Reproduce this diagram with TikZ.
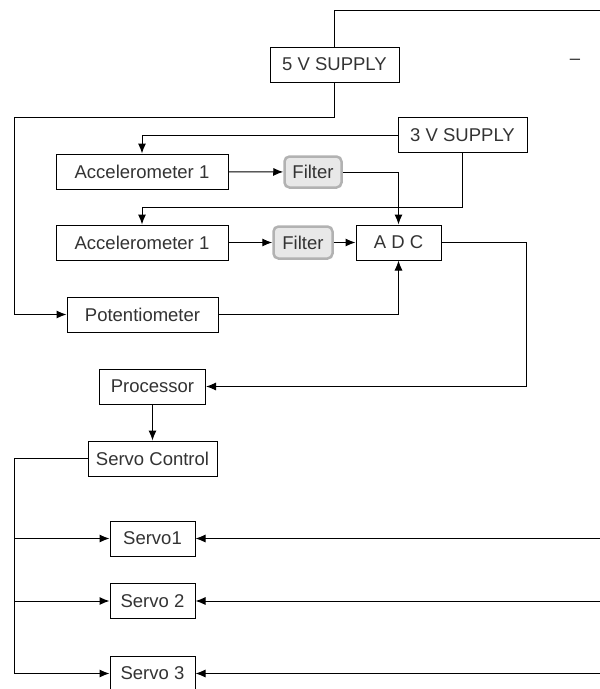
\documentclass[tikz,border=0pt]{standalone}
\usepackage{fontspec}
\setmainfont{Liberation Sans}
\usepackage{tikz}
\usetikzlibrary{shapes,calc,arrows,arrows.meta,positioning}

\begin{document}
\begin{tikzpicture}[x=1pt,y=-1pt,line width=1pt,>={Latex[length=10pt,width=8pt]}]
	\tikzstyle{bnode}=[rectangle,draw,fill=white,minimum height=35pt,inner sep=0pt,text=black!80,font=\fontsize{18.5}{21}\selectfont]
	\tikzstyle{fnode}=[bnode,draw=gray!60,fill=gray!18,line width=2.5pt,rounded corners=5pt]
	\clip (0,0) rectangle (600,689);
	% supplies
	\node[bnode,minimum width=129pt] (supfive) at (334.5,64.5) {5 V SUPPLY};
	\node[bnode,minimum width=129pt] (supthree) at (462.5,135) {3 V SUPPLY};
	\node[text=black!80,font=\fontsize{18.5}{21}\selectfont] (dash) at (575,62) {–};
	% sensors
	\node[bnode,minimum width=172pt] (acc1) at (142,171.5) {Accelerometer 1};
	\node[fnode,minimum width=57pt,minimum height=31pt] (filt1) at (313,172) {Filter};
	\node[bnode,minimum width=172pt] (acc2) at (142,242.5) {Accelerometer 1};
	\node[fnode,minimum width=59pt,minimum height=32pt] (filt2) at (303,242.5) {Filter};
	\node[bnode,minimum width=85pt] (adc) at (398.5,242.5) {A D C};
	\node[bnode,minimum width=151pt] (pot) at (142.5,314.5) {Potentiometer};
	% control
	\node[bnode,minimum width=106pt] (proc) at (152.5,386.5) {Processor};
	\node[bnode,minimum width=129pt] (sctrl) at (152.5,458.5) {Servo Control};
	\node[bnode,minimum width=85pt] (servo1) at (152.5,538.5) {Servo1};
	\node[bnode,minimum width=85pt] (servo2) at (152.5,601) {Servo 2};
	\node[bnode,minimum width=85pt] (servo3) at (152.5,673.5) {Servo 3};

	\coordinate (topend) at (600,10);
	\coordinate (bendA) at (14,117);
	\coordinate (bendB) at (462.5,207);
	\coordinate (bendC) at (526,386.5);
	\coordinate (leftx) at (14,458.5);
	\coordinate (rightx) at (600,458.5);

	\draw (supfive.north) |- (topend);
	\draw[->] (supfive.south) |- (bendA) |- (pot.west);
	\draw[->] (supthree.west) -| (acc1.north);
	\draw[->] (supthree.south) |- (bendB) -| (acc2.north);
	\draw[->] (acc1) -- (filt1);
	\draw[->] (acc2) -- (filt2);
	\draw[->] (filt2) -- (adc);
	\draw[->] (filt1.east) -| (adc.north);
	\draw[->] (pot.east) -| (adc.south);
	\draw[->] (adc.east) -| (bendC) -- (proc.east);
	\draw[->] (proc) -- (sctrl);
	\draw (sctrl.west) -- (leftx) -- (leftx |- servo3.west);
	\foreach \i in {1,2,3}{
		\draw[->] (leftx |- servo\i.west) -- (servo\i.west);
		\draw[->] (rightx |- servo\i.east) -- (servo\i.east);
	}
\end{tikzpicture}
\end{document}
